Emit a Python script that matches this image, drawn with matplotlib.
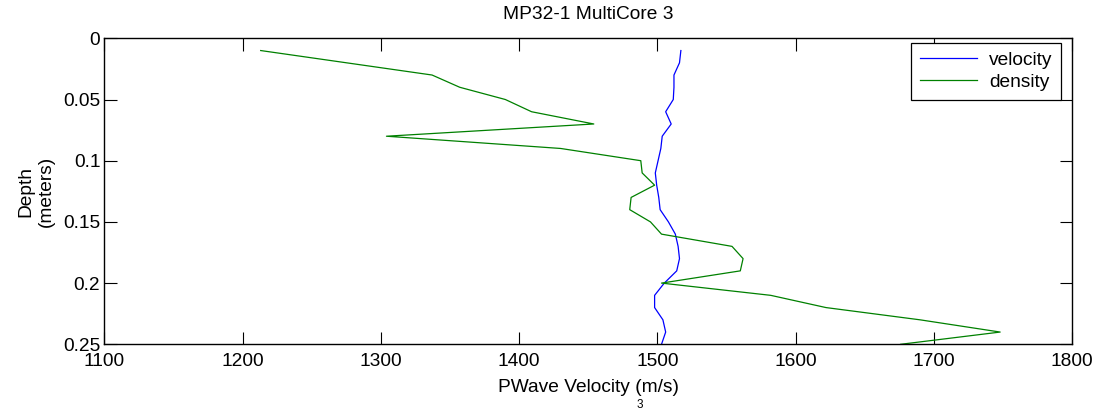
import matplotlib.pyplot as plt

# depth samples (meters)
depth = [0.01, 0.02, 0.03, 0.04, 0.05, 0.06, 0.07, 0.08, 0.09, 0.10,
         0.11, 0.12, 0.13, 0.14, 0.15, 0.16, 0.17, 0.18, 0.19, 0.20,
         0.21, 0.22, 0.23, 0.24, 0.25]

# p-wave velocity (m/s)
velocity = [1517, 1516, 1512, 1512, 1511.5, 1506, 1510, 1503.5, 1502.5, 1500.5,
            1498.5, 1499.5, 1501, 1502, 1508, 1513, 1515, 1516, 1514, 1505,
            1498, 1498, 1504, 1506, 1503]

# density, drawn on the velocity scale
density = [1213, 1275, 1337, 1357, 1390, 1409, 1454, 1304, 1430, 1488,
           1489, 1498, 1481, 1480, 1495, 1503, 1554, 1562, 1560, 1503,
           1582, 1622, 1690, 1748, 1676]

plt.rcParams["font.family"] = ["Liberation Sans", "DejaVu Sans"]
fs = 13.8

fig = plt.figure(figsize=(11.01, 4.11), dpi=100)
ax = fig.add_axes([0.0949, 0.1623, 0.8788, 0.7445])

ax.plot(velocity, depth, color="#0000ff", lw=0.9, label="velocity")
ax.plot(density, depth, color="#008000", lw=0.9, label="density")

ax.set_xlim(1100, 1800)
ax.set_ylim(0.25, 0)
ax.set_xticks([1100, 1200, 1300, 1400, 1500, 1600, 1700, 1800])
ax.set_yticks([0, 0.05, 0.1, 0.15, 0.2, 0.25])
ax.set_yticklabels(["0", "0.05", "0.1", "0.15", "0.2", "0.25"])
ax.tick_params(direction="in", length=9, width=0.8, labelsize=fs,
               top=True, right=True)
ax.tick_params(axis="x", pad=6)
ax.tick_params(axis="y", pad=3)
for s in ax.spines.values():
    s.set_linewidth(1.0)

ax.set_title("MP32-1 MultiCore 3", fontsize=fs, pad=14)
ax.set_xlabel("PWave Velocity (m/s)", fontsize=fs, labelpad=7)
ax.set_ylabel("Depth\n(meters)", fontsize=fs, labelpad=6, linespacing=1.25)

leg = ax.legend(loc="upper right", bbox_to_anchor=(0.9886, 0.9856),
                borderaxespad=0, fontsize=fs, fancybox=False,
                edgecolor="black", framealpha=1,
                handlelength=3.0, handletextpad=0.6, labelspacing=0.25,
                borderpad=0.45)
leg.get_frame().set_linewidth(0.9)

# superscript of the second axis label peeking in at the bottom
fig.text(640 / 1101, 1 - 399 / 411, "3", fontsize=8.5, va="top", ha="center")

fig.savefig("out.png", dpi=100)
